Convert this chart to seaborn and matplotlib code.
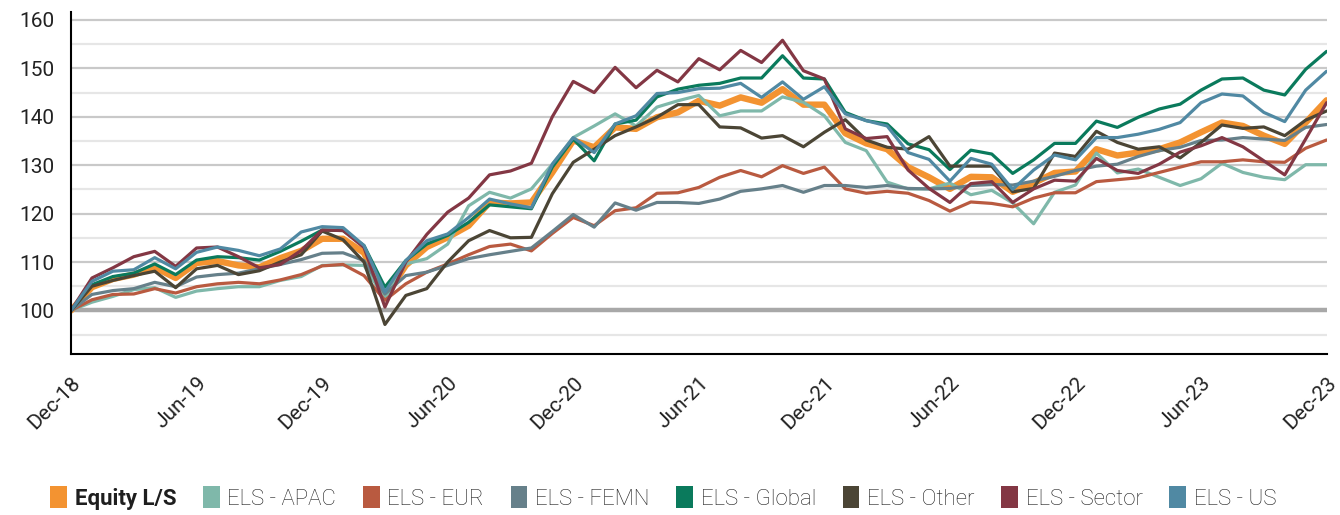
import numpy as np
import pandas as pd
import matplotlib.pyplot as plt
import seaborn as sns
from matplotlib.patches import Patch


months = pd.date_range('2018-12-31', periods=61, freq='ME').strftime('%b-%y').tolist()

equity_ls = [100, 104.8, 106.5, 107.4, 108.9, 106.7, 109.8, 110.2, 109.3, 108.9, 110.8, 112.3, 114.8, 114.8, 111.9,
             102.7, 109.3, 113.1, 115.1, 117.5, 122.3, 122.1, 122.3, 128.5, 135.1, 133.7, 137.8, 137.5, 139.9, 140.9,
             143.3, 142.3, 144, 142.9, 145.7, 142.5, 142.5, 136.6, 134.5, 133.3, 129.6, 127.5, 125.1, 127.6, 127.5,
             124.5, 126.3, 128.4, 128.7, 133.3, 132, 132.6, 133.3, 134.7, 136.8, 138.8, 138.1, 136.1, 134.4, 138.8, 143.4]
els_apac = [100, 101.7, 102.9, 104.3, 104.7, 102.7, 104, 104.5, 104.9, 104.9, 106.2, 107, 109.3, 109.4, 109.3,
            102.4, 109.6, 110.7, 113.7, 121.6, 124.4, 123.2, 125.1, 130.2, 135.7, 138.1, 140.6, 138.1, 142, 143.3,
            144.4, 140.2, 141.2, 141.2, 144.1, 143, 140.2, 134.7, 133, 126.5, 125.1, 125.1, 126.3, 123.9, 124.8,
            122.2, 117.9, 124.4, 125.9, 132.5, 128.4, 129.2, 127.5, 125.8, 127.2, 130.4, 128.5, 127.5, 127, 130.1, 130.1]
els_eur = [100, 102.2, 103.3, 103.4, 104.5, 103.6, 104.9, 105.5, 105.8, 105.5, 106.3, 107.4, 109.2, 109.5, 107.2,
           102.1, 105.5, 107.9, 109.6, 111.5, 113.2, 113.7, 112.3, 115.9, 119.2, 117.5, 120.6, 121.2, 124.2, 124.3,
           125.4, 127.5, 128.9, 127.6, 129.9, 128.3, 129.6, 125.1, 124.2, 124.6, 124.2, 122.7, 120.5, 122.4, 122.1,
           121.4, 123.2, 124.3, 124.3, 126.6, 127, 127.4, 128.5, 129.6, 130.7, 130.7, 131.1, 130.7, 130.6, 133.5, 135.2]
els_femn = [100, 103.3, 104.1, 104.5, 105.8, 104.9, 106.9, 107.4, 107.7, 108.6, 109.5, 110.5, 111.8, 111.9, 110.3,
            103.4, 107.2, 107.9, 109.3, 110.7, 111.5, 112.2, 112.9, 116.3, 119.8, 117.2, 122.2, 120.7, 122.3, 122.3,
            122.1, 123, 124.6, 125.1, 125.8, 124.4, 125.8, 125.8, 125.4, 125.8, 125.2, 125.1, 125.2, 125.8, 126,
            125.9, 126.7, 127.7, 128.9, 129.8, 130.2, 131.8, 133, 133.7, 135.1, 135.2, 135.7, 135.4, 135.1, 137.8, 138.4]
els_global = [100, 105.3, 107, 107.7, 109.6, 107.4, 110.4, 111.1, 110.9, 110.4, 112.2, 114.3, 116.6, 116.5, 113.4,
              104.8, 110.3, 113.7, 115.5, 118.2, 121.8, 121.4, 121, 129.6, 135.4, 130.9, 138.5, 139.3, 144.1, 145.7,
              146.5, 146.9, 148, 148, 152.6, 148, 147.8, 140.9, 139.2, 138.5, 134.4, 133.2, 129.1, 133.1, 132.3,
              128.3, 131.1, 134.5, 134.5, 139.1, 137.8, 139.9, 141.6, 142.6, 145.5, 147.8, 148, 145.5, 144.5, 149.8, 153.5]
els_other = [100, 105, 106.2, 107.2, 108.1, 104.7, 108.6, 109.3, 107.4, 108.2, 110, 111.5, 116.4, 114.6, 110,
             97.1, 103.1, 104.5, 110, 114.4, 116.5, 115, 115.1, 124.1, 130.6, 133.3, 136.1, 137.9, 139.9, 142.5,
             142.5, 137.9, 137.7, 135.6, 136.1, 133.8, 136.8, 139.4, 135.2, 133.7, 133.3, 135.9, 129.8, 129.8, 129.8,
             124.5, 125.2, 132.5, 131.8, 137, 134.7, 133.3, 133.8, 131.5, 134.7, 138.3, 137.6, 137.9, 136.1, 139.3, 141.2]
els_sector = [100, 106.7, 108.8, 111.1, 112.2, 109.1, 112.9, 113.1, 111.1, 108.8, 109.5, 112.4, 116.6, 116.5, 113,
              100.7, 110, 115.7, 120.3, 123.2, 128, 128.8, 130.4, 140, 147.3, 145, 150.2, 146, 149.6, 147.2,
              152, 149.7, 153.7, 151.2, 155.8, 149.5, 147.8, 137.5, 135.5, 135.9, 129, 125.2, 122.3, 126.2, 126.6,
              122.3, 125.1, 126.9, 126.7, 131.4, 128.9, 128.3, 130.2, 132.7, 134, 135.7, 133.8, 130.9, 128, 135.4, 142.9]
els_us = [100, 106, 108.1, 108.4, 110.9, 108.6, 112, 113.1, 112.4, 111.3, 112.7, 116.2, 117.3, 117.1, 113.4,
          103.8, 110.3, 114.4, 115.8, 119.2, 123, 122, 121.2, 130.2, 135.7, 132.6, 138.5, 140.2, 144.8, 145,
          145.8, 145.9, 146.9, 144, 147.2, 143.6, 146.2, 140.6, 139.2, 138.1, 132.6, 131.2, 126.7, 131.4, 130.2,
          125, 129, 132.1, 131.1, 135.7, 135.7, 136.4, 137.4, 138.8, 142.9, 144.7, 144.3, 140.9, 139, 145.5, 149.4]

series_names = ['Equity L/S', 'ELS - APAC', 'ELS - EUR', 'ELS - FEMN',
                'ELS - Global', 'ELS - Other', 'ELS - Sector', 'ELS - US']
series_values = [equity_ls, els_apac, els_eur, els_femn, els_global, els_other, els_sector, els_us]
colors = ['#f39331', '#7fb8aa', '#b95a40', '#66808a', '#0a7a5c', '#4b4535', '#833744', '#5089a3']

df = pd.DataFrame({name: vals for name, vals in zip(series_names, series_values)})
df['month'] = np.arange(len(months))
long_df = df.melt(id_vars='month', var_name='series', value_name='value')

sns.set_style('white')
plt.rcParams['font.family'] = ['Roboto', 'DejaVu Sans']

fig = plt.figure(figsize=(13.4, 5.15), dpi=100)
ax = fig.add_axes([0.053, 0.3126, 0.937, 0.6647])

# horizontal gridlines: darker every 10, lighter every 5, thick baseline at 100
for y in range(95, 161, 5):
    if y == 100:
        continue
    ax.axhline(y, color='#c9c9c9' if y % 10 == 0 else '#e6e6e6', lw=1.6, zorder=0)
ax.axhline(100, color='#a8a8a8', lw=3.2, zorder=1)

for name, color in zip(series_names, colors):
    sub = long_df[long_df['series'] == name]
    sns.lineplot(data=sub, x='month', y='value', ax=ax, color=color,
                 lw=4.6 if name == 'Equity L/S' else 2.3, zorder=2)

ax.set_xlim(0, len(months) - 1)
ax.set_ylim(91, 161.7)
ax.set_xlabel('')
ax.set_ylabel('')

tick_pos = list(range(0, len(months), 6))
ax.set_xticks(tick_pos)
ax.set_xticklabels([months[i] for i in tick_pos], rotation=45, ha='right',
                   rotation_mode='anchor', fontsize=15, color='#222222')
ax.set_yticks(range(100, 161, 10))
ax.set_yticklabels([str(v) for v in range(100, 161, 10)], fontsize=15, color='#222222')
ax.tick_params(axis='both', direction='out', length=8, width=1.5, color='black')
ax.tick_params(axis='x', pad=6)
ax.tick_params(axis='y', pad=4)

for side in ['top', 'right']:
    ax.spines[side].set_visible(False)
for side in ['left', 'bottom']:
    ax.spines[side].set_color('black')
    ax.spines[side].set_linewidth(1.5)

handles = [Patch(facecolor=c, edgecolor='none') for c in colors]
leg = fig.legend(handles, series_names, loc='center', bbox_to_anchor=(0.495, 0.033),
                 ncol=8, frameon=False, fontsize=16, handlelength=0.75, handleheight=1.1,
                 handletextpad=0.35, columnspacing=1.2)
for i, text in enumerate(leg.get_texts()):
    text.set_color('#1e1e1e')
    text.set_fontweight('bold' if i == 0 else 'light')

fig.savefig('out.png', dpi=100)
